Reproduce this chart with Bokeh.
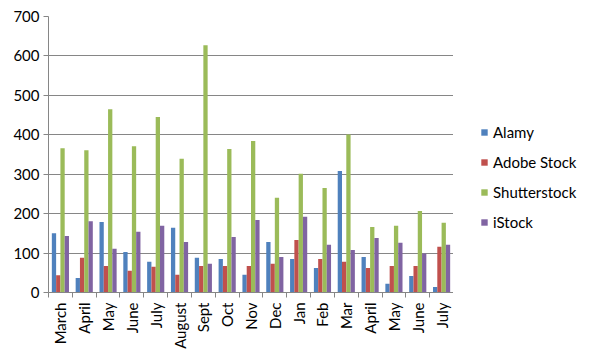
import math
from bokeh.plotting import figure
from bokeh.layouts import row
from bokeh.models import ColumnDataSource, FixedTicker, Legend, LegendItem, Range1d
from bokeh.embed import file_html
from bokeh.resources import INLINE

months = ["March", "April", "May", "June", "July", "August", "Sept", "Oct", "Nov",
          "Dec", "Jan", "Feb", "Mar", "April", "May", "June", "July"]
alamy = [150, 37, 179, 103, 78, 164, 88, 85, 45, 128, 85, 62, 308, 90, 22, 42, 14]
adobe = [44, 88, 67, 55, 65, 45, 67, 67, 67, 73, 133, 85, 78, 62, 67, 67, 116]
shutter = [366, 361, 465, 371, 445, 339, 627, 364, 384, 240, 301, 265, 401, 166, 169, 207, 177]
istock = [143, 181, 111, 154, 169, 128, 73, 141, 184, 90, 192, 121, 108, 138, 126, 99, 121]

series = [("Alamy", alamy, "#4F81BD"), ("Adobe Stock", adobe, "#C0504D"),
          ("Shutterstock", shutter, "#9BBB59"), ("iStock", istock, "#8064A2")]

FONT = "Lato"
n = len(months)
centers = [i + 0.5 for i in range(n)]

p = figure(width=453, height=359, output_backend="svg", toolbar_location=None,
           x_range=Range1d(0, n), y_range=Range1d(0, 700),
           min_border_left=48, min_border_right=0, min_border_top=16, min_border_bottom=67)
p.outline_line_color = None
p.background_fill_color = "white"
p.border_fill_color = "white"

bw = 0.18
offsets = [-1.5 * bw, -0.5 * bw, 0.5 * bw, 1.5 * bw]
sources = []
for (name, vals, col), off in zip(series, offsets):
    src = ColumnDataSource(dict(x=[c + off for c in centers], top=vals))
    sources.append(src)
    p.vbar(x="x", top="top", width=bw, bottom=0, source=src,
           fill_color=col, line_color=None)

# x axis
p.xaxis.ticker = FixedTicker(ticks=centers, minor_ticks=list(range(n + 1)))
p.xaxis.major_label_overrides = {c: m for c, m in zip(centers, months)}
p.xaxis.major_label_orientation = math.pi / 2
p.xaxis.major_tick_line_color = None
p.xaxis.minor_tick_line_color = "#868686"
p.xaxis.minor_tick_out = 5
p.xaxis.minor_tick_in = 0
p.xaxis.axis_line_color = "#868686"
p.xaxis.major_label_text_font = FONT
p.xaxis.major_label_text_font_size = "15px"
p.xaxis.major_label_text_color = "black"
p.xaxis.major_label_standoff = 4

# y axis
p.yaxis.ticker = FixedTicker(ticks=list(range(0, 701, 100)), minor_ticks=[])
p.yaxis.axis_line_color = "#868686"
p.yaxis.major_tick_line_color = "#868686"
p.yaxis.major_tick_out = 5
p.yaxis.major_tick_in = 0
p.yaxis.major_label_text_font = FONT
p.yaxis.major_label_text_font_size = "15px"
p.yaxis.major_label_text_color = "black"
p.yaxis.major_label_standoff = 4

p.xgrid.grid_line_color = None
p.ygrid.grid_line_color = "#868686"
p.ygrid.grid_line_width = 1

# legend panel: zero-size bars from the same data, so only the legend shows
q = figure(width=138, height=359, output_backend="svg", toolbar_location=None,
           x_range=Range1d(0, n), y_range=Range1d(0, 700),
           min_border_left=0, min_border_right=0, min_border_top=0, min_border_bottom=0)
q.axis.visible = False
q.grid.visible = False
q.outline_line_color = None
q.border_fill_color = "white"
q.background_fill_color = "white"
items = []
for (name, vals, col), src in zip(series, sources):
    r = q.vbar(x="x", top="top", bottom="top", width=0, source=src,
               fill_color=col, line_color=None)
    items.append(LegendItem(label=name, renderers=[r]))

legend = Legend(items=items, location=(27, 60), orientation="vertical",
                glyph_width=8, glyph_height=8, label_height=20, spacing=10,
                label_standoff=5, padding=0, margin=0,
                label_text_font=FONT, label_text_font_size="15px",
                label_text_color="black",
                border_line_color=None, background_fill_alpha=0)
q.add_layout(legend)

layout = row(p, q, spacing=0)
open("out.html", "w").write(file_html(layout, INLINE))
